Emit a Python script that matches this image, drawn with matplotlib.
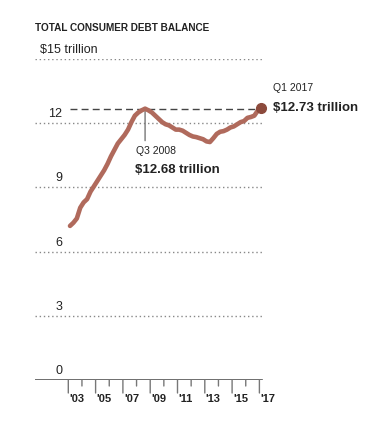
import matplotlib
matplotlib.use("Agg")
import matplotlib.pyplot as plt
import numpy as np

plt.rcParams['font.family'] = ['Liberation Sans', 'DejaVu Sans']

# Quarterly total consumer debt balance, trillions of dollars, Q1 2003 - Q1 2017
years = list(range(2003, 2018))
debt = [
    7.20, 7.35, 7.55, 8.05,     # 2003
    8.30, 8.45, 8.80, 9.05,     # 2004
    9.30, 9.55, 9.80, 10.10,    # 2005
    10.45, 10.75, 11.05, 11.25, # 2006
    11.45, 11.70, 12.05, 12.35, # 2007
    12.50, 12.60, 12.68, 12.60, # 2008
    12.50, 12.35, 12.20, 12.05, # 2009
    11.95, 11.90, 11.80, 11.70, # 2010
    11.70, 11.65, 11.55, 11.45, # 2011
    11.38, 11.35, 11.30, 11.25, # 2012
    11.15, 11.12, 11.30, 11.50, # 2013
    11.60, 11.63, 11.70, 11.80, # 2014
    11.85, 11.95, 12.05, 12.10, # 2015
    12.25, 12.29, 12.35, 12.58, # 2016
    12.73,                      # 2017 Q1
]
y_ticks = [0, 3, 6, 9, 12, 15]
y_tick_labels = ["0", "3", "6", "9", "12", "\\$15 trillion"]
x_tick_labels = ["'03", "'05", "'07", "'09", "'11", "'13", "'15", "'17"]
title = "TOTAL CONSUMER DEBT BALANCE"
peak_year, peak_quarter = 2008, 3
peak_label = ("Q3 2008", "\\$12.68 trillion")
end_label = ("Q1 2017", "\\$12.73 trillion")

n = len(debt)
t = np.array([2003 + i / 4 + 0.125 for i in range(n)])
debt = np.array(debt)
pk = (peak_year - 2003) * 4 + (peak_quarter - 1)

W, H = 380, 430
fig = plt.figure(figsize=(W / 100, H / 100), dpi=100)
x0, x1 = 35, 263
y0, y1 = 380, 59
ax = fig.add_axes([x0 / W, 1 - y0 / H, (x1 - x0) / W, (y0 - y1) / H])
xmin = 2003 + (x0 - 68.3) / 13.65
xmax = 2003 + (x1 - 68.3) / 13.65
ax.set_xlim(xmin, xmax)
ax.set_ylim(0, 15)
ax.axis('off')

grid_c = '#888888'
for v, lbl in zip(y_ticks, y_tick_labels):
    if v > 0:
        ax.axhline(v, color=grid_c, lw=1.0, ls=(0, (1, 2)), zorder=1)
    if v == 15:
        ax.annotate(lbl, xy=(xmin, v), xycoords='data', xytext=(5, 3),
                    textcoords='offset pixels', ha='left', va='bottom',
                    fontsize=9, color='#222222')
    else:
        ax.annotate(lbl, xy=(xmin, v), xycoords='data', xytext=(27, 3),
                    textcoords='offset pixels', ha='right', va='bottom',
                    fontsize=9, color='#222222')

# baseline
ax.axhline(0, color='#555555', lw=1.2, zorder=2, xmax=(x1 - 1 - x0) / (x1 - x0))

# ticks
for yr in years:
    major = (yr - 2003) % 2 == 0
    length = 13 if major else 6
    ax.annotate('', xy=(yr, 0), xytext=(0, -length), textcoords='offset pixels',
                xycoords='data',
                arrowprops=dict(arrowstyle='-', color='#777777', lw=1.0,
                                shrinkA=0, shrinkB=0), annotation_clip=False)
for i, lab in enumerate(x_tick_labels):
    yr = 2003 + 2 * i
    ax.annotate(lab, xy=(yr, 0), xytext=(1, -14), textcoords='offset pixels',
                ha='left', va='top', fontsize=8, fontweight='bold', color='#222222',
                annotation_clip=False)

# peak reference dashed line
ax.plot([2003.1, t[-1]], [debt[pk], debt[pk]], color='#444444', lw=1.0,
        ls=(0, (5, 3)), zorder=3, clip_on=False)
# vertical line at peak
ax.annotate('', xy=(t[pk], debt[pk]), xytext=(0, -32), textcoords='offset pixels',
            xycoords='data', arrowprops=dict(arrowstyle='-', color='#777777', lw=1.0,
                                              shrinkA=0, shrinkB=0))

ax.plot(t, debt, color='#b06a5c', lw=3.3, solid_capstyle='round',
        solid_joinstyle='round', zorder=4, clip_on=False)
ax.plot(t[-1], debt[-1], 'o', color='#8c4a3c', ms=7, zorder=5, clip_on=False)

ax.annotate(peak_label[0], xy=(t[pk], debt[pk]), xytext=(-9, -37),
            textcoords='offset pixels', ha='left', va='top', fontsize=7.5,
            color='#222222')
ax.annotate(peak_label[1], xy=(t[pk], debt[pk]), xytext=(-10, -55),
            textcoords='offset pixels', ha='left', va='top', fontsize=9.5,
            fontweight='bold', color='#222222')
ax.annotate(end_label[0], xy=(t[-1], debt[-1]), xytext=(12, 15),
            textcoords='offset pixels', ha='left', va='bottom', fontsize=7.5,
            color='#222222', annotation_clip=False)
ax.annotate(end_label[1], xy=(t[-1], debt[-1]), xytext=(12, 0),
            textcoords='offset pixels', ha='left', va='center', fontsize=9.5,
            fontweight='bold', color='#222222', annotation_clip=False)

fig.text(35 / W, 1 - 28 / H, title, ha='left', va='center', fontsize=7.2,
         fontweight='bold', color='#222222')

fig.savefig('out.png', dpi=100)
